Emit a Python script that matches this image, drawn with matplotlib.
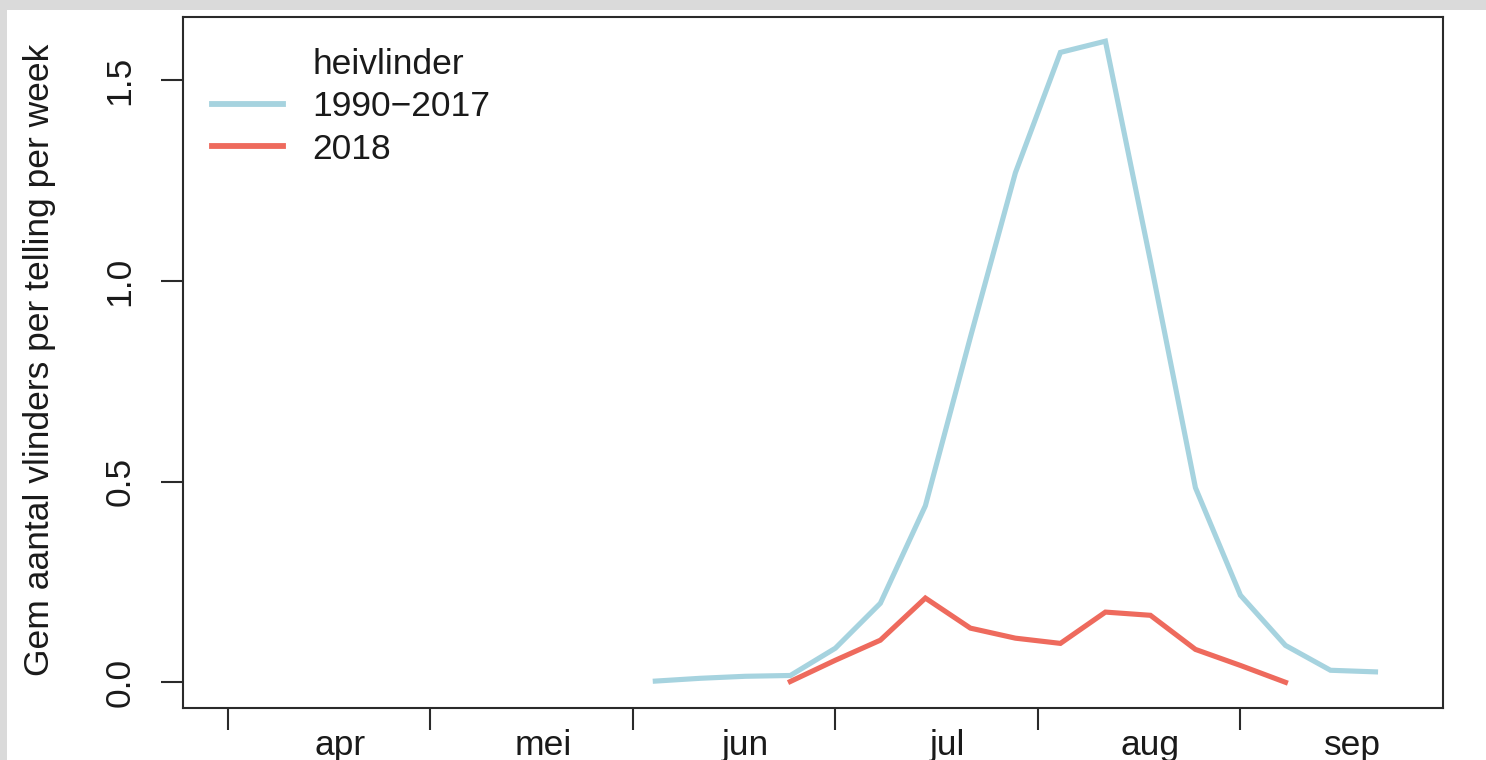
import matplotlib
matplotlib.use("Agg")
import matplotlib.pyplot as plt
from matplotlib.lines import Line2D
from matplotlib.patches import Rectangle

plt.rcParams["font.family"] = ["Liberation Sans", "DejaVu Sans"]

# week numbers and mean counts per week
weeks_ref = list(range(22, 39))
counts_ref = [0.003, 0.010, 0.015, 0.017, 0.085, 0.197, 0.44, 0.86, 1.27,
              1.57, 1.598, 1.05, 0.485, 0.217, 0.092, 0.030, 0.026]
weeks_2018 = list(range(25, 37))
counts_2018 = [0.002, 0.055, 0.105, 0.21, 0.135, 0.11, 0.097, 0.175, 0.167,
               0.082, 0.042, 0.0]

month_ticks = [12.5, 17, 21.5, 26, 30.5, 35]
month_label_pos = [15, 19.5, 24, 28.5, 33, 37.5]
month_labels = ["apr", "mei", "jun", "jul", "aug", "sep"]
y_ticks = [0.0, 0.5, 1.0, 1.5]

col_ref = "#a6d3df"
col_2018 = "#ee6a5d"
fs = 25.5

W, H = 1486, 760
fig = plt.figure(figsize=(W / 100, H / 100), dpi=100, facecolor="#dadada")
# white page inside the grey screenshot border
fig.patches.append(Rectangle((7 / W, 0), 1, 1 - 10 / H, transform=fig.transFigure,
                             facecolor="white", edgecolor="none", zorder=-1))

ax = fig.add_axes([182.7 / W, 1 - 707.7 / H, (1443 - 182.7) / W, (707.7 - 16.7) / H])
ax.plot(weeks_ref, counts_ref, color=col_ref, lw=3.7, solid_joinstyle="miter")
ax.plot(weeks_2018, counts_2018, color=col_2018, lw=3.7, solid_joinstyle="miter")

ax.set_xlim(11.5, 39.5)
ax.set_ylim(-0.0633, 1.659)

for s in ax.spines.values():
    s.set_linewidth(1.5)
    s.set_color("#2a2a2a")

ax.set_xticks(month_ticks)
ax.set_xticklabels([])
ax.set_xticks(month_label_pos, minor=True)
ax.set_xticklabels(month_labels, minor=True)
ax.tick_params(axis="x", which="major", length=15.8, width=1.5, color="#2a2a2a")
ax.tick_params(axis="x", which="minor", length=0, pad=27.5, labelsize=fs,
               labelcolor="#1a1a1a")
for t in ax.get_xticklabels(minor=True):
    t.set_va("center")

ax.set_yticks(y_ticks)
ax.set_yticklabels([f"{v:.1f}" for v in y_ticks])
ax.tick_params(axis="y", length=15.8, width=1.5, color="#2a2a2a", pad=29.3,
               labelsize=fs, labelcolor="#1a1a1a")
for t in ax.get_yticklabels():
    t.set_rotation(90)
    t.set_ha("center")
    t.set_va("center")

fig.text(40 / W, 1 - 360 / H, "Gem aantal vlinders per telling per week",
         rotation=90, ha="center", va="center", fontsize=fs, color="#1a1a1a")

handles = [Line2D([], [], color="none"),
           Line2D([], [], color=col_ref, lw=4.2),
           Line2D([], [], color=col_2018, lw=4.2)]
labels = ["heivlinder", "1990\u22122017", "2018"]
ax.legend(handles, labels, loc="upper left", bbox_to_anchor=(29 / 1260.3, 1 - 31 / 691),
          frameon=False, fontsize=fs, handlelength=2.0, handletextpad=0.85,
          labelspacing=0.27, borderpad=0, borderaxespad=0, labelcolor="#1a1a1a")

fig.savefig("out.png", dpi=100, facecolor=fig.get_facecolor())
